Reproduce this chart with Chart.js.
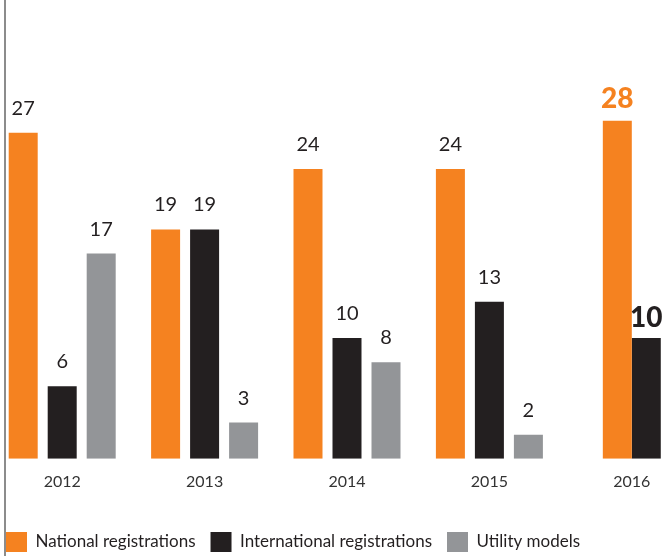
<!DOCTYPE html>
<html>
<head>
<meta charset="utf-8">
<script src="https://cdn.jsdelivr.net/npm/chart.js@4"></script>
<style>
  body { margin: 0; background: #fff; }
  #wrap { position: relative; width: 667px; height: 556px; overflow: hidden; }
  #edge { position: absolute; left: 4px; top: 0; width: 2px; height: 556px; background: #8c8c8c; }
  #myChart { position: absolute; left: -9px; top: 0; }
</style>
</head>
<body>
<div id="wrap">
  <canvas id="myChart" width="712" height="562"></canvas>
  <div id="edge"></div>
</div>
<script>
let years = ['2012', '2013', '2014', '2015', '2016'];
let national = [27, 19, 24, 24, null];
let international = [6, 19, 10, 13, null];
let utility = [17, 3, 8, 2, null];
// 2016 is drawn as a separate pair of bars, side by side
let national2016 = [null, null, null, null, 28];
let international2016 = [null, null, null, null, 10];

let orange = '#f58220';
let dark = '#231f20';
let grey = '#939598';

// draws the value above each bar
let valueLabels = {
  id: 'valueLabels',
  afterDatasetsDraw(chart) {
    let ctx = chart.ctx;
    ctx.save();
    ctx.textAlign = 'center';
    ctx.textBaseline = 'alphabetic';
    chart.data.datasets.forEach((ds, i) => {
      let meta = chart.getDatasetMeta(i);
      meta.data.forEach((bar, j) => {
        let v = ds.data[j];
        if (v === null) return;
        ctx.font = ds.labelFont || '20px Lato';
        ctx.fillStyle = ds.labelColor || dark;
        ctx.fillText(v, bar.x, bar.y - (ds.labelGap || 18));
      });
    });
    ctx.restore();
  }
};

let ctx = document.getElementById('myChart').getContext('2d');

let myChart = new Chart(ctx, {
  type: 'bar',
  data: {
    labels: years,
    datasets: [
      { label: 'National registrations', data: national, backgroundColor: orange,
        barPercentage: 0.7436, categoryPercentage: 0.8216 },
      { label: 'International registrations', data: international, backgroundColor: dark,
        barPercentage: 0.7436, categoryPercentage: 0.8216 },
      { label: 'Utility models', data: utility, backgroundColor: grey,
        barPercentage: 0.7436, categoryPercentage: 0.8216 },
      { label: 'n2016', data: national2016, backgroundColor: orange,
        barPercentage: 1, categoryPercentage: 0.407,
        labelFont: '900 28px Lato', labelColor: orange, labelGap: 13 },
      { label: 'i2016', data: international2016, backgroundColor: dark,
        barPercentage: 1, categoryPercentage: 0.407,
        labelFont: '900 28px Lato', labelColor: dark, labelGap: 11 }
    ]
  },
  options: {
    responsive: false,
    animation: false,
    skipNull: true,
    layout: { padding: 0 },
    scales: {
      x: {
        grid: { display: false },
        border: { display: false },
        ticks: { color: '#333', font: { family: 'Lato', size: 16 }, padding: 5 },
        afterFit: (scale) => { scale.height += 21; }
      },
      y: {
        display: false,
        min: 0,
        max: 38
      }
    },
    plugins: {
      tooltip: { enabled: false },
      legend: {
        position: 'bottom',
        align: 'start',
        labels: {
          boxWidth: 21,
          boxHeight: 20,
          padding: 15,
          color: dark,
          font: { family: 'Lato', size: 17 },
          filter: (item) => item.datasetIndex < 3
        }
      }
    }
  },
  plugins: [valueLabels]
});
</script>
</body>
</html>
